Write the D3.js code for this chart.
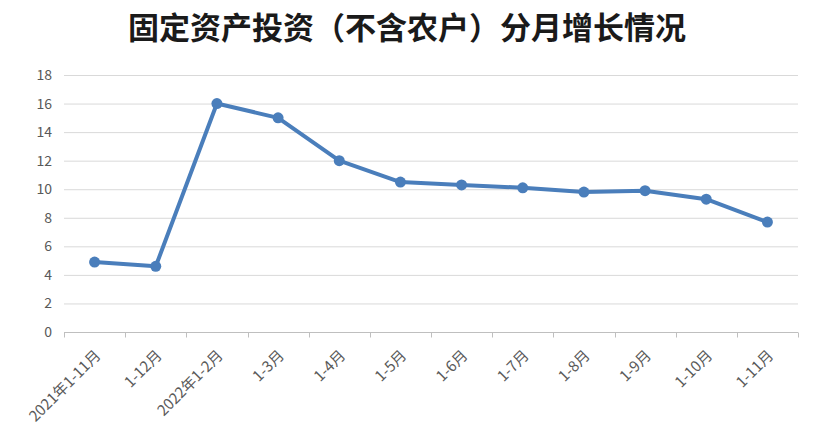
<!DOCTYPE html>
<html><head><meta charset="utf-8">
<script src="https://cdn.jsdelivr.net/npm/d3@7"></script>
<style>
html,body{margin:0;padding:0;background:#fff;}
svg{display:block;}
</style></head>
<body>
<svg id="chart" width="814" height="442"></svg>
<script>
const title = "固定资产投资（不含农户）分月增长情况";
const categories = ["2021年1-11月","1-12月","2022年1-2月","1-3月","1-4月","1-5月","1-6月","1-7月","1-8月","1-9月","1-10月","1-11月"];
const values = [4.9, 4.6, 16.0, 15.0, 12.0, 10.5, 10.3, 10.1, 9.8, 9.9, 9.3, 7.7];
const yTicks = [0,2,4,6,8,10,12,14,16,18];

const svg = d3.select("#chart");
const m = {left:64, right:16, top:75, bottom:110};
const W = 814, H = 442;
const x = d3.scaleBand().domain(categories).range([m.left, W - m.right]);
const y = d3.scaleLinear().domain([0,18]).range([H - m.bottom, m.top]);
const font = "'Noto Sans CJK SC', 'Noto Sans', sans-serif";

svg.append("text").attr("x", 407).attr("y", 39).attr("text-anchor","middle")
  .attr("font-family", font).attr("font-weight", 700).attr("font-size", 31)
  .attr("fill", "#1a1a1a").text(title);

// grid
svg.append("g").selectAll("line").data(yTicks.filter(d=>d>0)).join("line")
  .attr("x1", m.left).attr("x2", W - m.right)
  .attr("y1", d=>y(d)+0.5).attr("y2", d=>y(d)+0.5)
  .attr("stroke", "#d9d9d9").attr("stroke-width", 1);

// y axis labels
const ya = svg.append("g").attr("transform", `translate(${m.left},0)`)
  .call(d3.axisLeft(y).tickValues(yTicks).tickSize(0).tickPadding(12));
ya.select(".domain").remove();
ya.selectAll("text").attr("font-family", font).attr("font-size", 14).attr("fill", "#595959");

// x axis
const xa = svg.append("g").attr("transform", `translate(0,${y(0)+0.5})`)
  .call(d3.axisBottom(x).tickSize(0).tickPadding(0));
xa.select(".domain").attr("stroke", "#bfbfbf").attr("d", `M${m.left},0H${W-m.right}`);
xa.selectAll(".tick line").remove();
const bounds = categories.map(c => x(c)).concat([x(categories[categories.length-1]) + x.bandwidth()]);
xa.selectAll("line.bt").data(bounds).join("line").attr("class","bt")
  .attr("x1", d=>Math.round(d)+0.5).attr("x2", d=>Math.round(d)+0.5)
  .attr("y1", 0).attr("y2", 5).attr("stroke", "#bfbfbf");
xa.selectAll(".tick text")
  .attr("font-family", font).attr("font-size", 15).attr("fill", "#595959")
  .attr("text-anchor", "end").attr("dy", 0)
  .attr("transform", "translate(7,24) rotate(-45)");

// line
const cx = c => x(c) + x.bandwidth()/2;
svg.append("path").datum(values)
  .attr("fill","none").attr("stroke","#4a7ebb").attr("stroke-width",4)
  .attr("stroke-linejoin","round").attr("stroke-linecap","round")
  .attr("d", d3.line().x((d,i)=>cx(categories[i])).y(d=>y(d)));
svg.append("g").selectAll("circle").data(values).join("circle")
  .attr("cx", (d,i)=>cx(categories[i])).attr("cy", d=>y(d)).attr("r", 5.5)
  .attr("fill", "#4a7ebb");
</script>
</body></html>
